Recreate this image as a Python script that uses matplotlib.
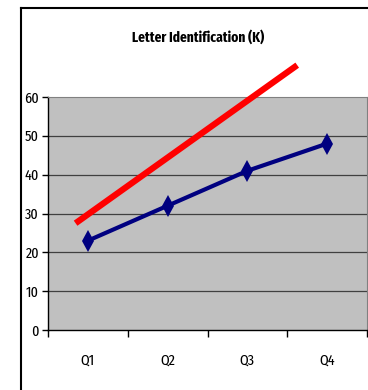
import matplotlib
matplotlib.use("Agg")
import matplotlib.pyplot as plt
from matplotlib.lines import Line2D

# Quarterly letter identification scores
quarters = ["Q1", "Q2", "Q3", "Q4"]
scores = [23, 32, 41, 48]

# Goal line endpoints (quarter position, score)
goal_x = [0.846, 3.625]
goal_y = [27.5, 68.2]

y_ticks = [0, 10, 20, 30, 40, 50, 60]

W, H = 368, 390
fig = plt.figure(figsize=(W / 100, H / 100), dpi=100)
font = ["Fira Sans Extra Condensed", "Roboto Condensed", "DejaVu Sans"]

ax = fig.add_axes([48 / W, 1 - 330 / H, 319 / W, 233 / H])
ax.set_facecolor("#C0C0C0")

xpos = list(range(1, len(quarters) + 1))
ax.set_xlim(0.5, len(quarters) + 0.5)
ax.set_ylim(y_ticks[0], y_ticks[-1])

for v in y_ticks[1:-1]:
    ax.axhline(v, color="#404040", lw=0.9, zorder=1)

ax.plot(xpos, scores, color="#000080", lw=3.0, marker="d",
        markersize=11, markeredgewidth=0, zorder=3)
ax.plot(goal_x, goal_y, color="#FF0000", lw=4.5, solid_capstyle="butt",
        clip_on=False, zorder=4)

ax.set_xticks([x - 0.5 for x in xpos] + [len(quarters) + 0.5])
ax.set_xticklabels([])
ax.set_xticks(xpos, minor=True)
ax.set_xticklabels(quarters, minor=True, fontfamily=font, fontsize=11)
ax.tick_params(axis="x", which="major", length=5, width=1, color="black", direction="out")
ax.tick_params(axis="x", which="minor", length=0, pad=17)

ax.set_yticks(y_ticks)
ax.set_yticklabels([str(v) for v in y_ticks], fontfamily=font, fontsize=11)
ax.tick_params(axis="y", length=4, width=1, color="black", direction="out", pad=2.5)

ax.spines["left"].set_color("black")
ax.spines["bottom"].set_color("black")
ax.spines["left"].set_linewidth(1.0)
ax.spines["bottom"].set_linewidth(1.0)
for s in ("top", "right"):
    ax.spines[s].set_color("#808080")
    ax.spines[s].set_linewidth(0.8)

fig.text(198 / W, 1 - 37 / H, "Letter Identification (K)", ha="center", va="center",
         fontfamily=font, fontweight="bold", fontsize=10.5)

# chart frame
fig.add_artist(Line2D([21 / W, 21 / W], [0, 1 - 7.5 / H], color="black", lw=1.5,
                      transform=fig.transFigure))
fig.add_artist(Line2D([21 / W, 1], [1 - 7.5 / H, 1 - 7.5 / H], color="black", lw=1.5,
                      transform=fig.transFigure))

fig.savefig("out.png", dpi=100)
